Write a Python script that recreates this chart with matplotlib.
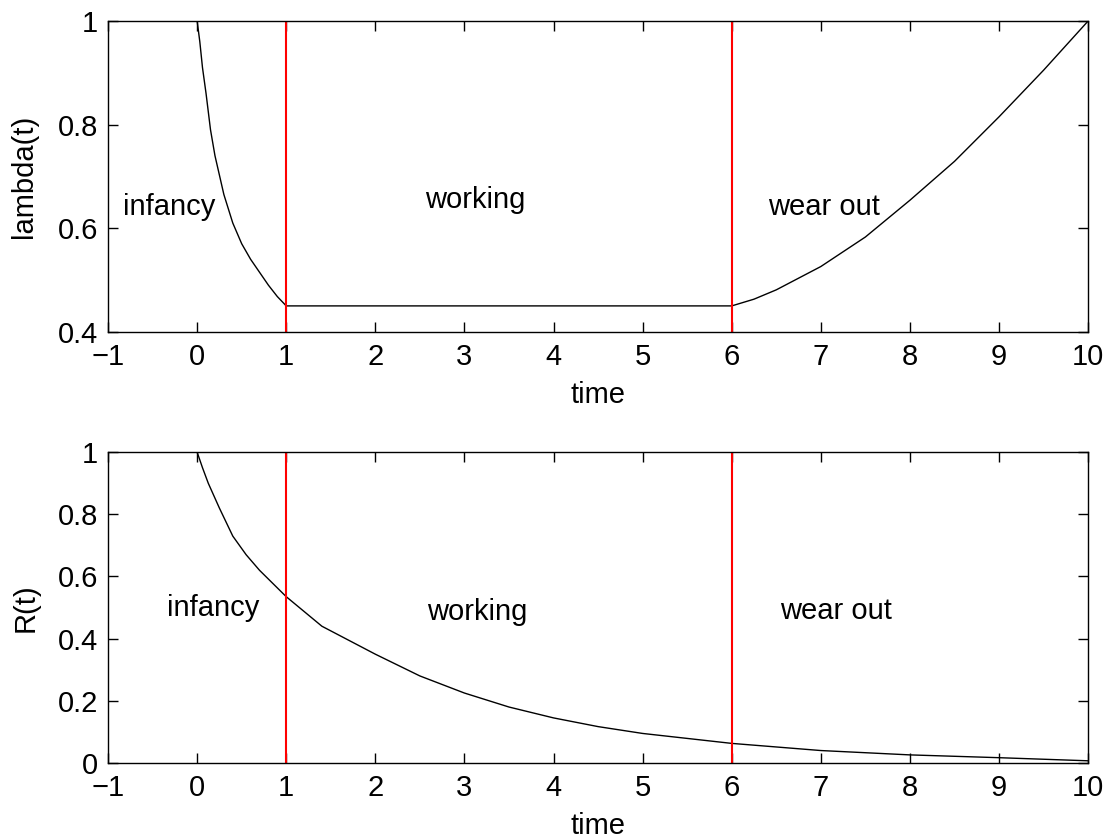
import matplotlib
matplotlib.use("Agg")
import matplotlib.pyplot as plt

plt.rcParams['font.family'] = ['Liberation Sans', 'DejaVu Sans']

# lambda(t)
lam_t = [0, 0.03, 0.06, 0.1, 0.15, 0.2, 0.3, 0.4, 0.5, 0.6, 0.7, 0.8, 0.9, 1.0,
         6.0, 6.25, 6.5, 7.0, 7.5, 8.0, 8.5, 9.0, 9.5, 10.0]
lam_v = [1.0, 0.96, 0.91, 0.86, 0.79, 0.74, 0.665, 0.61, 0.57, 0.54, 0.515, 0.49, 0.468, 0.45,
         0.45, 0.463, 0.481, 0.526, 0.583, 0.654, 0.729, 0.815, 0.905, 1.0]

# R(t)
r_t = [0, 0.06, 0.125, 0.25, 0.4, 0.55, 0.7, 1.0, 1.4, 2.0, 2.5, 3.0, 3.5, 4.0, 4.5,
       5, 6, 7, 8, 9, 10]
r_v = [1.0, 0.95, 0.90, 0.82, 0.73, 0.67, 0.62, 0.535, 0.44, 0.35, 0.28, 0.225, 0.18, 0.145,
       0.117, 0.095, 0.063, 0.040, 0.026, 0.017, 0.007]

phase_bounds = [1, 6]
phase_labels = ["infancy", "working", "wear out"]
x_ticks = [-1, 0, 1, 2, 3, 4, 5, 6, 7, 8, 9, 10]
lam_ticks = [0.4, 0.6, 0.8, 1.0]
lam_ticklabels = ["0.4", "0.6", "0.8", "1"]
r_ticks = [0, 0.2, 0.4, 0.6, 0.8, 1.0]
r_ticklabels = ["0", "0.2", "0.4", "0.6", "0.8", "1"]

# label positions (data coords)
lam_label_pos = [(-0.83, 0.641), (2.56, 0.654), (6.41, 0.641)]
r_label_pos = [(-0.34, 0.498), (2.58, 0.486), (6.54, 0.49)]

FS = 21
fig = plt.figure(figsize=(11.15, 8.4), dpi=100)
ax1 = fig.add_axes([0.0969, 0.605, 0.879, 0.370])
ax2 = fig.add_axes([0.0969, 0.0917, 0.879, 0.370])

def style(ax, yticks, ylabels, ylim):
    ax.set_xlim(-1, 10)
    ax.set_ylim(*ylim)
    ax.set_xticks(x_ticks)
    ax.set_xticklabels([str(v).replace('-', '\u2212') for v in x_ticks])
    ax.set_yticks(yticks)
    ax.set_yticklabels(ylabels)
    ax.tick_params(direction='in', length=7, width=1, top=True, right=True,
                   labelsize=FS)
    ax.tick_params(axis='x', pad=8)
    ax.tick_params(axis='y', pad=7)
    for s in ax.spines.values():
        s.set_linewidth(1.0)
    ax.set_xlabel("time", fontsize=FS, va='center')
    ax.xaxis.set_label_coords(0.5, -0.203)

ax1.plot(lam_t, lam_v, color='black', lw=1.0)
for b in phase_bounds:
    ax1.axvline(b, color='red', lw=1.5)
for (x, y), s in zip(lam_label_pos, phase_labels):
    ax1.text(x, y, s, fontsize=FS, ha='left', va='center')
style(ax1, lam_ticks, lam_ticklabels, (0.4, 1.0))
ax1.set_ylabel("lambda(t)", fontsize=FS, va='center')
ax1.yaxis.set_label_coords(-0.0857, 0.5)

ax2.plot(r_t, r_v, color='black', lw=1.0)
for b in phase_bounds:
    ax2.axvline(b, color='red', lw=1.5)
for (x, y), s in zip(r_label_pos, phase_labels):
    ax2.text(x, y, s, fontsize=FS, ha='left', va='center')
style(ax2, r_ticks, r_ticklabels, (0, 1.0))
ax2.set_ylabel("R(t)", fontsize=FS, va='center')
ax2.yaxis.set_label_coords(-0.0837, 0.5)

fig.savefig("out.png", dpi=100)
